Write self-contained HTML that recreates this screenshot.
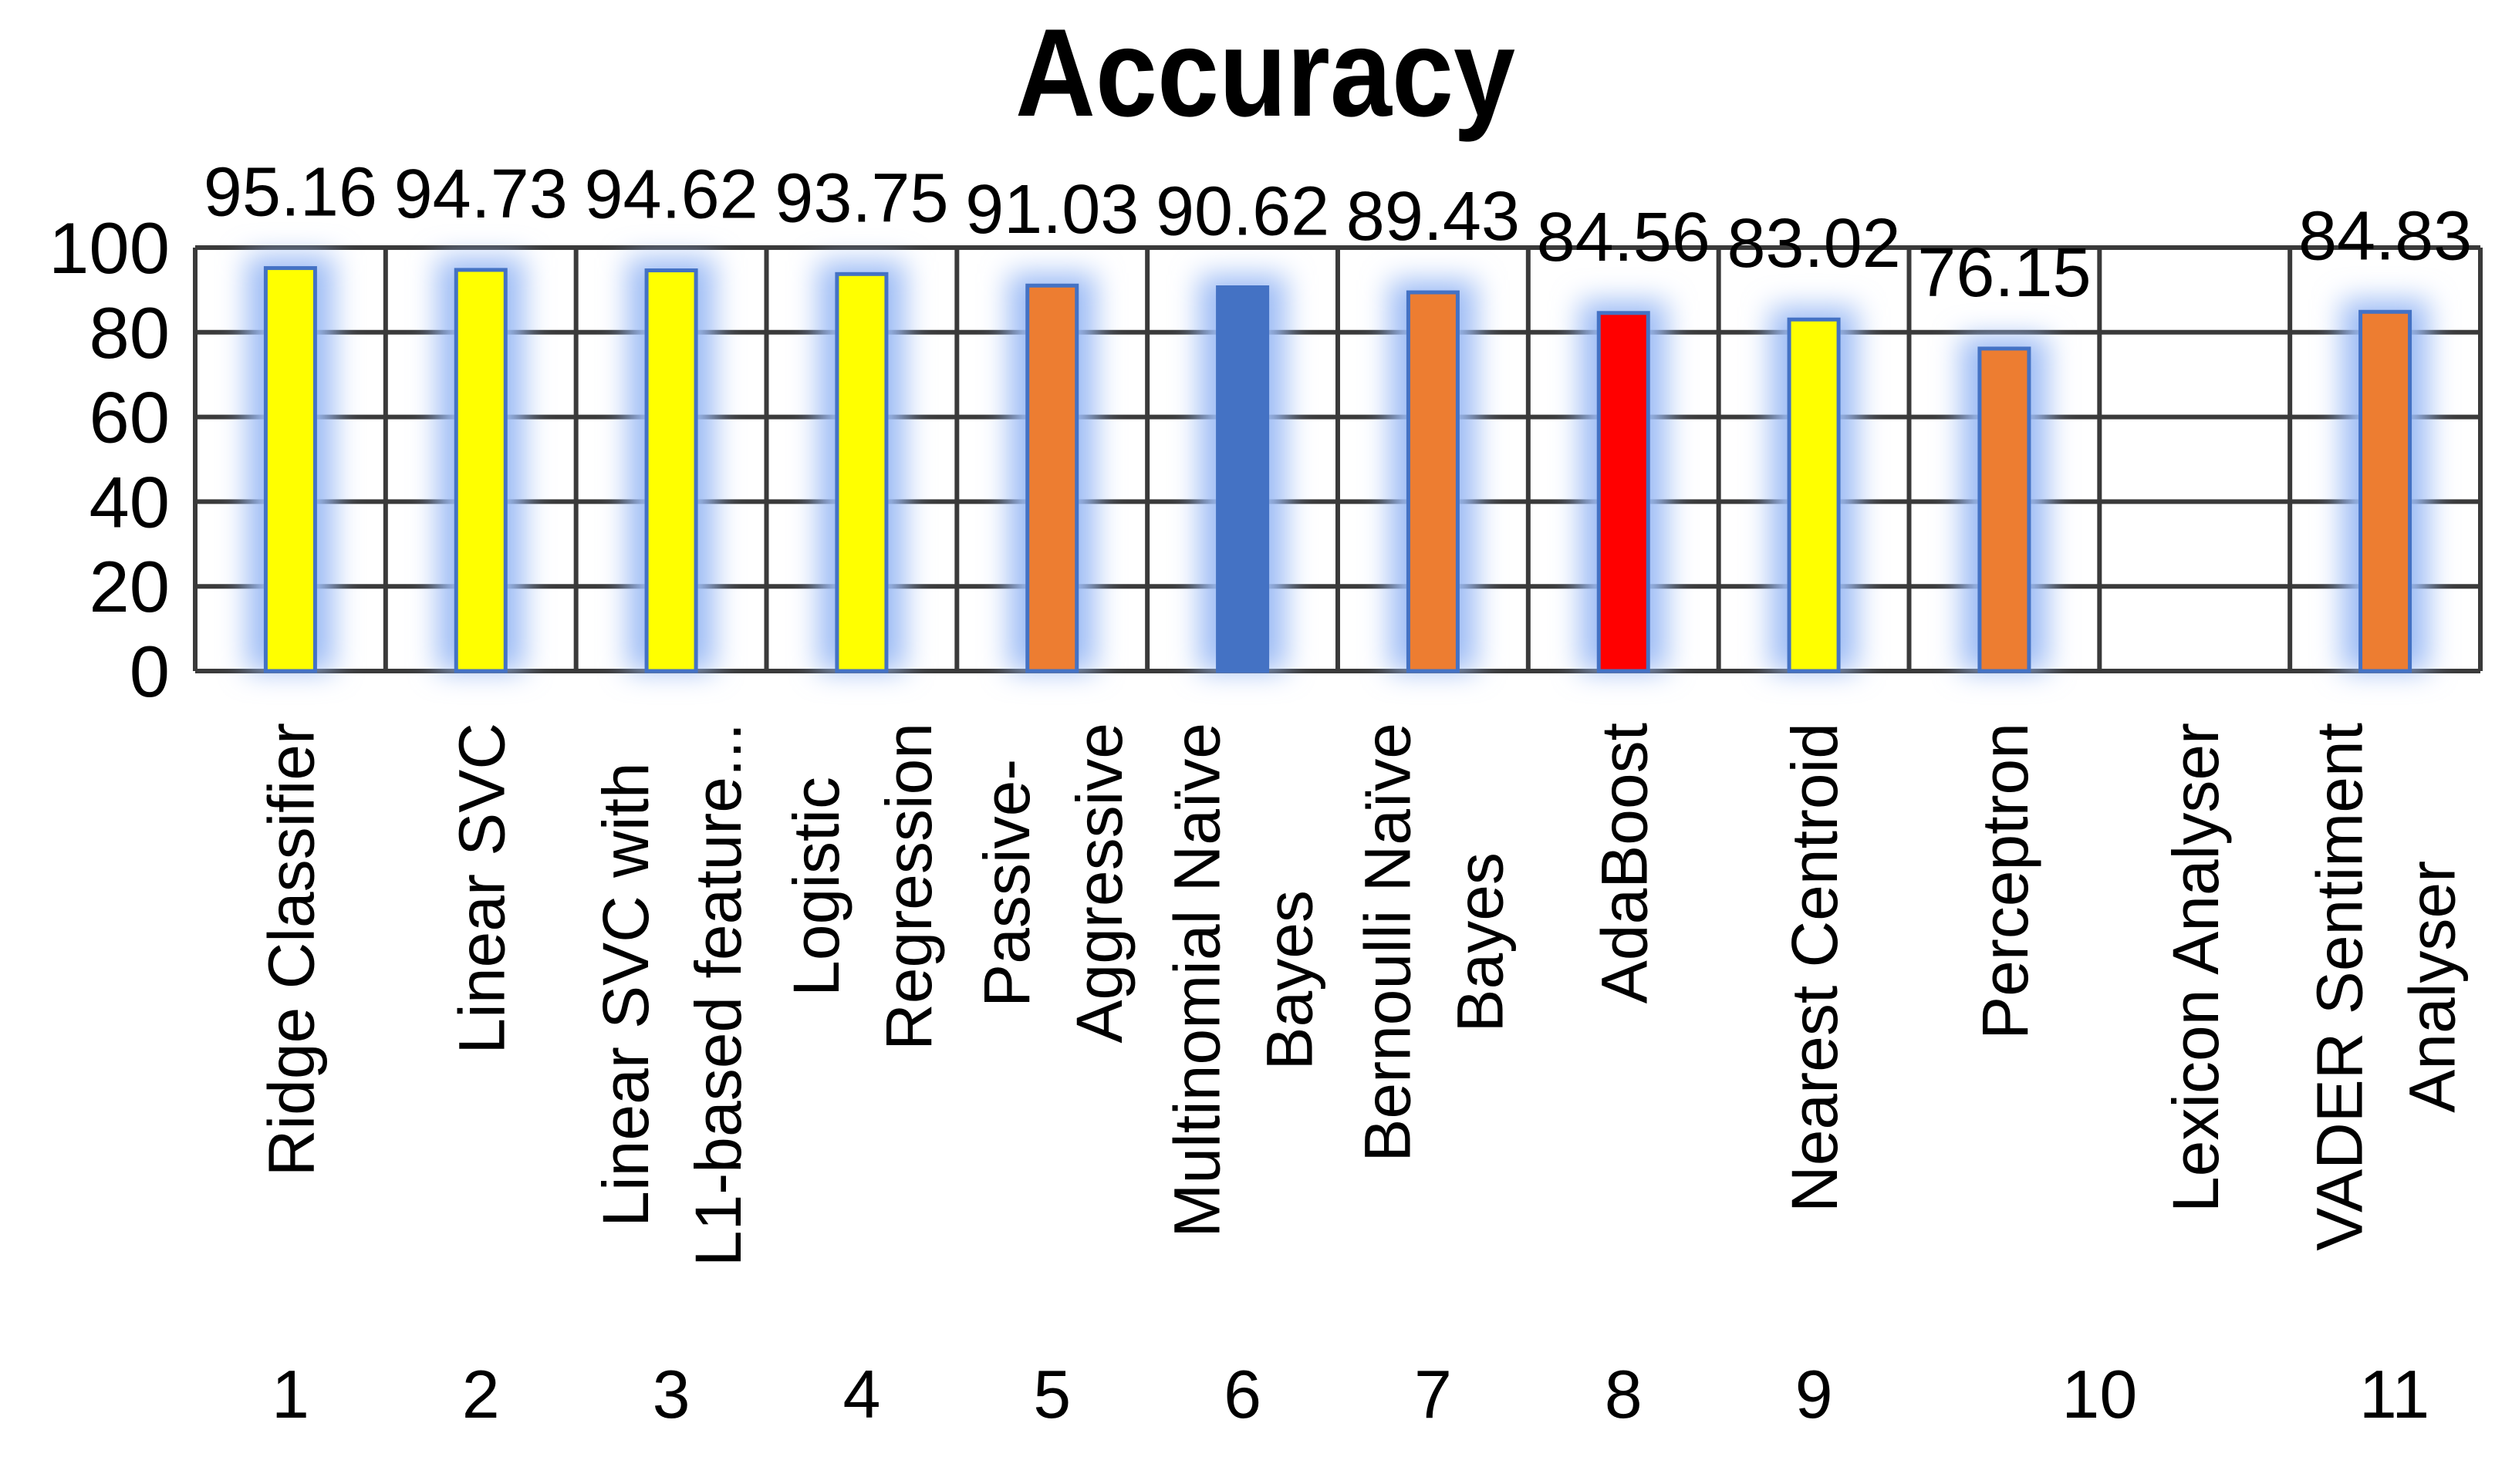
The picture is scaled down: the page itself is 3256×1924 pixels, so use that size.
<!DOCTYPE html>
<html><head><meta charset="utf-8"><title>Accuracy</title>
<style>
html,body{margin:0;padding:0;background:#fff;}
svg{display:block;}
text{font-family:"Liberation Sans",sans-serif;fill:#000;}
</style></head>
<body>
<svg id="chart" width="3256" height="1924" viewBox="0 0 3256 1924" xmlns="http://www.w3.org/2000/svg">
<defs>
<filter id="glow" x="-100%" y="-20%" width="300%" height="140%">
<feGaussianBlur stdDeviation="18"/>
</filter>
</defs>
<rect x="0" y="0" width="3256" height="1924" fill="#fff"/>
<text x="1640" y="150" text-anchor="middle" font-weight="bold" font-size="162" textLength="648" lengthAdjust="spacingAndGlyphs">Accuracy</text>
<g id="grid"></g>
<g id="glows"></g>
<g id="bars"></g>
<g id="labels"></g>
</svg>
<script>
const categories = [
  ["Ridge Classifier"],
  ["Linear SVC"],
  ["Linear SVC with","L1-based feature..."],
  ["Logistic","Regression"],
  ["Passive-","Aggressive"],
  ["Multinomial Naïve","Bayes"],
  ["Bernoulli Naïve","Bayes"],
  ["AdaBoost"],
  ["Nearest Centroid"],
  ["Perceptron"],
  ["Lexicon Analyser"],
  ["VADER Sentiment","Analyser"]
];
const values = [95.16, 94.73, 94.62, 93.75, 91.03, 90.62, 89.43, 84.56, 83.02, 76.15, null, 84.83];
const valueLabels = ["95.16","94.73","94.62","93.75","91.03","90.62","89.43","84.56","83.02","76.15","","84.83"];
const barColors = ["#FFFF00","#FFFF00","#FFFF00","#FFFF00","#ED7D31","#4472C4","#ED7D31","#FF0000","#FFFF00","#ED7D31","#ED7D31","#ED7D31"];
const yTicks = [0, 20, 40, 60, 80, 100];
const indexLabels = ["1","2","3","4","5","6","7","8","9","10","11"];

const NS = "http://www.w3.org/2000/svg";
const X0 = 253, X1 = 3215, Y0 = 870, Y1 = 321;
const colW = (X1 - X0) / categories.length;
const yScale = v => Y0 - (v / 100) * (Y0 - Y1);
const xCenter = i => X0 + (i + 0.5) * colW;
function mk(tag, attrs, parent) {
  const e = document.createElementNS(NS, tag);
  for (const k in attrs) e.setAttribute(k, attrs[k]);
  parent.appendChild(e);
  return e;
}
const grid = document.getElementById('grid');
const glows = document.getElementById('glows');
const bars = document.getElementById('bars');
const labels = document.getElementById('labels');

yTicks.forEach(t => {
  const y = yScale(t);
  const l = mk('line', {x1: X0, x2: X1, y1: y, y2: y, stroke: '#3a3a3a', 'stroke-width': 6}, grid);
  
  
  const tx = mk('text', {x: 220, y: y + 33, 'text-anchor': 'end', 'font-size': 94}, labels);
  tx.textContent = String(t);
  
  
});
for (let i = 0; i <= categories.length; i++) {
  const x = X0 + i * colW;
  const l = mk('line', {x1: x, x2: x, y1: Y1, y2: Y0, stroke: '#3a3a3a', 'stroke-width': 6}, grid);
  
  
}
const bw = 64;
values.forEach((v, i) => {
  if (v === null) return;
  const cx = xCenter(i), top = yScale(v);
  const g = mk('rect', {x: cx - bw/2 - 24, y: top - 16, width: bw + 48, height: Y0 - top + 16, fill: '#9dbcf5', filter: 'url(#glow)'}, glows);
  
  
  const r = mk('rect', {x: cx - bw/2, y: top, width: bw, height: Y0 - top, fill: barColors[i], stroke: '#4472C4', 'stroke-width': 5}, bars);
  
  
  const t = mk('text', {x: cx, y: top - 68, 'text-anchor': 'middle', 'font-size': 90}, labels);
  t.textContent = valueLabels[i];
  
  
});
categories.forEach((lines, i) => {
  const cx = xCenter(i);
  const grp = mk('g', {}, labels);
  
  
  const els = [];
  let maxLen = 0;
  lines.forEach((ln, j) => {
    const off = lines.length === 1 ? 0 : (j === 0 ? -60 : 60);
    const t = mk('text', {'text-anchor': 'middle', 'font-size': 84}, grp);
    t.textContent = ln;
    els.push([t, cx + off + 30]);
    maxLen = Math.max(maxLen, t.getComputedTextLength());
  });
  const cy = 937 + maxLen / 2;
  els.forEach(([t, bx]) => {
    t.setAttribute('x', 0); t.setAttribute('y', 0);
    t.setAttribute('transform', `translate(${bx},${cy}) rotate(-90)`);
  });
});
indexLabels.forEach((s, i) => {
  let x = i < 9 ? xCenter(i) : (i === 9 ? X0 + 10 * colW : xCenter(11) + 12);
  const t = mk('text', {x: x, y: 1838, 'text-anchor': 'middle', 'font-size': 88}, labels);
  t.textContent = s;
  
  
});
</script>
</body></html>
